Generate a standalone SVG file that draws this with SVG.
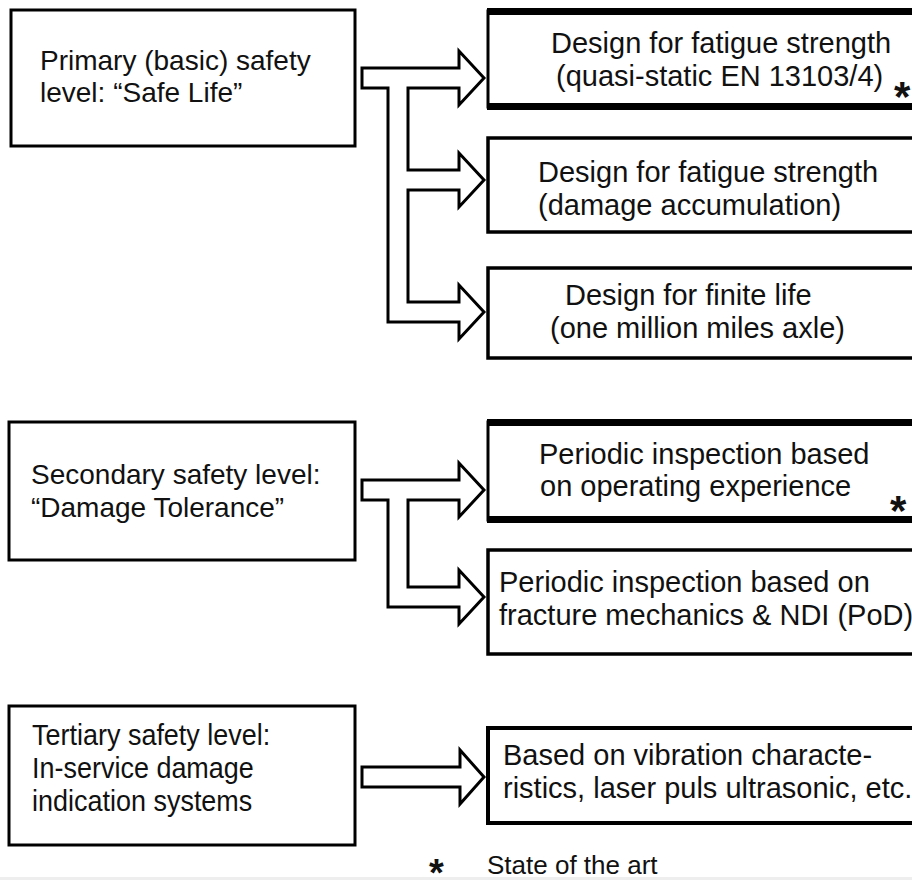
<svg xmlns="http://www.w3.org/2000/svg" width="912" height="880" viewBox="0 0 912 880">
<style>
.box{fill:#fff;stroke:#000;stroke-width:3}
.rbox{fill:#fff;stroke:#000;stroke-width:3}
.band{fill:#000}
.t{font-family:"Liberation Sans",Arial,sans-serif;font-size:28px;fill:#111}
.r{font-size:29px}
.ast{font-family:"Liberation Sans",Arial,sans-serif;font-size:42px;font-weight:bold;fill:#111}
.conn{fill:#fff;stroke:#000;stroke-width:3;stroke-linejoin:miter}
</style>
<rect width="912" height="880" fill="#fff"/>
<g id="primary">
<rect class="box" x="11" y="10" width="344" height="136"/>
<text class="t" x="40" y="70">Primary (basic) safety</text>
<text class="t" x="40" y="102">level: “Safe Life”</text>
</g>
<g id="secondary">
<rect class="box" x="9" y="422" width="346" height="138"/>
<text class="t" x="31" y="484">Secondary safety level:</text>
<text class="t" x="31" y="517">“Damage Tolerance”</text>
</g>
<g id="tertiary">
<rect class="box" x="9" y="706" width="346" height="139"/>
<g transform="translate(32,0) scale(0.93,1)">
<text class="t" x="0" y="745" style="font-size:29px">Tertiary safety level:</text>
<text class="t" x="0" y="778" style="font-size:29px">In-service damage</text>
<text class="t" x="0" y="811" style="font-size:29px">indication systems</text>
</g>
</g>
<g id="r1">
<rect class="rbox" x="488" y="11" width="440" height="96"/>
<rect class="band" x="487" y="8" width="430" height="7"/>
<rect class="band" x="487" y="103" width="430" height="7"/>
<text class="t r" x="551" y="53">Design for fatigue strength</text>
<text class="t r" x="556" y="86">(quasi-static EN 13103/4)</text>
<text class="ast" x="894" y="111">*</text>
</g>
<g id="r2">
<rect class="rbox" x="488" y="138" width="440" height="94" style="stroke-width:3.5"/>
<text class="t r" x="538" y="182">Design for fatigue strength</text>
<text class="t r" x="538" y="215">(damage accumulation)</text>
</g>
<g id="r3">
<rect class="rbox" x="488" y="268" width="440" height="90" style="stroke-width:3.5"/>
<text class="t r" x="565" y="305">Design for finite life</text>
<text class="t r" x="550" y="338">(one million miles axle)</text>
</g>
<g id="r4">
<rect class="rbox" x="488" y="422" width="440" height="98"/>
<rect class="band" x="487" y="419" width="430" height="7"/>
<rect class="band" x="487" y="516" width="430" height="7"/>
<text class="t r" x="539" y="464">Periodic inspection based</text>
<text class="t r" x="540" y="496">on operating experience</text>
<text class="ast" x="890" y="525">*</text>
</g>
<g id="r5">
<rect class="rbox" x="488" y="550" width="440" height="104" style="stroke-width:3.5"/>
<text class="t r" x="499" y="592">Periodic inspection based on</text>
<text class="t r" x="499" y="625">fracture mechanics &amp; NDI (PoD)</text>
</g>
<g id="r6">
<rect class="rbox" x="488" y="728" width="440" height="95" style="stroke-width:4"/>
<text class="t r" x="503" y="765">Based on vibration characte-</text>
<text class="t r" x="503" y="798">ristics, laser puls ultrasonic, etc.</text>
</g>
<g id="connectors">
<path class="conn" d="M362,68 H459 V51 L484,78 L459,105 V88 H408 V170 H459 V153 L484,180 L459,207 V190 H408 V302 H459 V285 L484,312 L459,339 V322 H388 V88 H362 Z"/>
<path class="conn" d="M362,480 H459 V463 L484,490 L459,517 V500 H408 V587 H459 V570 L484,597 L459,624 V607 H388 V500 H362 Z"/>
<path class="conn" d="M362,767 H460 V750 L484,777 L460,804 V787 H362 Z"/>
</g>
<g id="legend">
<text class="ast" x="429" y="886" style="font-size:38px">*</text>
<text class="t" x="487" y="874" style="font-size:26px">State of the art</text>
</g>
<rect x="0" y="877" width="912" height="3" fill="#eeeeee"/>
</svg>
